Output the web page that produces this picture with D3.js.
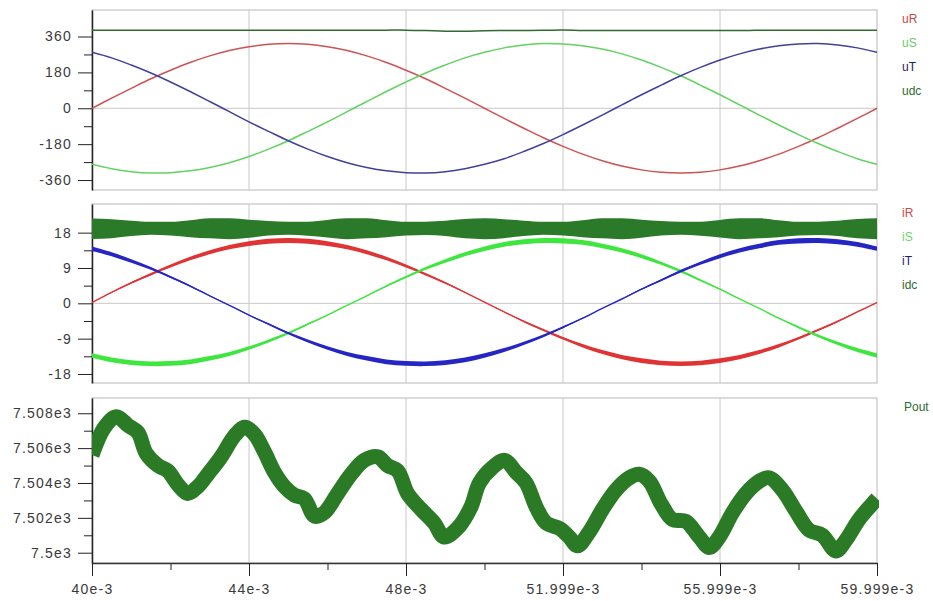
<!DOCTYPE html>
<html>
<head>
<meta charset="utf-8">
<script src="https://cdn.jsdelivr.net/npm/d3@7"></script>
<style>
  body { margin: 0; background: #fff; }
  svg { display: block; }
  .tick text { font-family: "Liberation Sans", Arial, sans-serif; font-size: 14px; fill: #3a3a3a; letter-spacing: 1.2px; }
  .legend { font-family: "Liberation Sans", Arial, sans-serif; font-size: 12px; }
</style>
</head>
<body>
<div id="chart"></div>
<script>
// time axis (ms), 0.5 ms steps
const t = [40,40.5,41,41.5,42,42.5,43,43.5,44,44.5,45,45.5,46,46.5,47,47.5,48,48.5,49,49.5,50,
  50.5,51,51.5,52,52.5,53,53.5,54,54.5,55,55.5,56,56.5,57,57.5,58,58.5,59,59.5,60];

// phase voltages (V) and dc link
const uR = [0,51,100,148,191,230,263,290,309,321,325,321,309,290,263,230,191,148,100,51,0,
  -51,-100,-148,-191,-230,-263,-290,-309,-321,-325,-321,-309,-290,-263,-230,-191,-148,-100,-51,0];
const uS = [-281,-303,-318,-325,-323,-314,-297,-273,-242,-205,-163,-116,-68,-17,34,84,132,177,217,253,281,
  303,318,325,323,314,297,273,242,205,163,116,68,17,-34,-84,-132,-177,-217,-253,-281];
const uT = [281,253,217,177,132,84,34,-17,-68,-116,-163,-205,-242,-273,-297,-314,-323,-325,-318,-303,-281,
  -253,-217,-177,-132,-84,-34,17,68,116,163,205,242,273,297,314,323,325,318,303,281];
const udc = [392,392,392,392,392,392,392,392,392,392,392,392,392,392,392,392,392,390,387,387,389,
  390,390,391,393,390,390,390,390,390,390,390,390,390,391,391,391,391,391,391,391];

// phase currents (A) with their ripple band (peak to peak)
const iR = [0.2,2.8,5.2,7.4,9.5,11.4,13.0,14.3,15.2,15.8,16.0,15.8,15.2,14.3,13.0,11.4,9.5,7.4,5.2,2.8,0.3,
  -2.2,-4.6,-6.8,-8.9,-10.8,-12.4,-13.7,-14.6,-15.2,-15.4,-15.2,-14.6,-13.7,-12.4,-10.8,-8.9,-6.8,-4.6,-2.2,0.2];
const iS = [-13.3,-14.4,-15.1,-15.4,-15.3,-14.9,-14.0,-12.9,-11.4,-9.6,-7.6,-5.3,-3.0,-0.5,1.9,4.4,6.7,8.9,10.8,12.5,13.9,
  15.0,15.7,16.0,15.9,15.5,14.6,13.5,12.0,10.2,8.2,5.9,3.6,1.1,-1.3,-3.8,-6.1,-8.3,-10.2,-11.9,-13.3];
const iT = [13.9,12.5,10.8,8.9,6.7,4.4,1.9,-0.5,-3.0,-5.3,-7.6,-9.6,-11.4,-12.9,-14.0,-14.9,-15.3,-15.4,-15.1,-14.4,-13.3,
  -11.9,-10.2,-8.3,-6.1,-3.8,-1.3,1.1,3.6,5.9,8.2,10.2,12.0,13.5,14.6,15.5,15.9,16.0,15.7,15.0,13.9];
const iRrip = [0.1,0.2,0.4,0.6,0.8,0.9,1.0,1.1,1.2,1.3,1.3,1.3,1.2,1.1,1.0,0.9,0.8,0.6,0.4,0.2,0.1,
  0.2,0.4,0.5,0.7,0.9,1.0,1.1,1.2,1.2,1.2,1.2,1.2,1.1,1.0,0.9,0.7,0.5,0.4,0.2,0.1];
const iSrip = [1.1,1.2,1.2,1.2,1.2,1.2,1.1,1.0,0.9,0.8,0.6,0.4,0.2,0.1,0.2,0.4,0.5,0.7,0.9,1.0,1.1,
  1.2,1.3,1.3,1.3,1.2,1.2,1.1,1.0,0.8,0.7,0.5,0.3,0.1,0.1,0.3,0.5,0.7,0.8,1.0,1.1];
const iTrip = [1.1,1.0,0.9,0.7,0.5,0.4,0.2,0.1,0.2,0.4,0.6,0.8,0.9,1.0,1.1,1.2,1.2,1.2,1.2,1.2,1.1,
  1.0,0.8,0.7,0.5,0.3,0.1,0.1,0.3,0.5,0.7,0.8,1.0,1.1,1.2,1.2,1.3,1.3,1.3,1.2,1.1];
const idc = [19.0,19.0,19.1,19.1,19.0,19.0,19.1,19.0,19.0,19.1,19.1,19.0,19.0,19.0,19.1,19.0,19.0,19.1,19.1,19.0,19.0,
  19.0,19.1,19.1,19.0,19.0,19.1,19.0,19.0,19.1,19.1,19.0,19.0,19.0,19.1,19.0,19.0,19.1,19.1,19.0,19.0];
const idcRip = [5.2,4.8,3.9,3.3,3.5,4.3,5.1,5.3,4.6,3.7,3.3,3.6,4.5,5.3,5.1,4.3,3.5,3.4,3.9,4.9,5.3,
  4.8,3.9,3.3,3.5,4.3,5.1,5.3,4.6,3.7,3.3,3.6,4.5,5.3,5.1,4.3,3.5,3.4,3.9,4.9,5.3];

// output power (W), traced centre of the noisy band
const poutT = [40.00,40.32,40.62,40.92,41.17,41.38,41.68,41.93,42.19,42.44,42.70,42.95,43.29,43.63,43.89,44.14,
  44.39,44.65,44.90,45.16,45.41,45.67,45.92,46.26,46.60,46.94,47.28,47.53,47.79,48.04,48.38,48.72,48.97,
  49.31,49.65,49.87,50.21,50.51,50.81,51.06,51.32,51.57,51.91,52.16,52.37,52.67,53.01,53.35,53.69,53.94,
  54.20,54.50,54.79,55.13,55.47,55.73,55.98,56.32,56.66,57.00,57.25,57.59,57.93,58.27,58.61,58.95,59.20,
  59.54,59.88,60.00];
const pout = [7505.6,7507.2,7507.8,7507.3,7506.9,7505.7,7505.0,7504.7,7503.9,7503.4,7503.8,7504.5,7505.5,7506.7,7507.2,7506.8,
  7505.8,7504.6,7503.8,7503.3,7503.1,7502.1,7502.3,7503.4,7504.5,7505.3,7505.5,7505.0,7504.7,7503.4,7502.5,7501.7,7500.9,
  7501.4,7502.6,7504.0,7504.9,7505.3,7504.6,7504.0,7502.6,7501.7,7501.4,7500.9,7500.4,7501.2,7502.5,7503.6,7504.3,7504.5,
  7504.1,7502.8,7501.9,7501.8,7500.9,7500.3,7500.9,7502.3,7503.4,7504.1,7504.3,7503.6,7502.4,7501.3,7501.0,7500.1,7500.7,
  7501.9,7502.8,7503.1];

// ticks
const xTicks = [40, 44, 48, 52, 56, 60];
const xLabels = ["40e-3", "44e-3", "48e-3", "51.999e-3", "55.999e-3", "59.999e-3"];
const xMinor = [42, 46, 50, 54, 58];
const xGrid = [44, 48, 52, 56];
const uTicks = [360, 180, 0, -180, -360];
const uMinor = [270, 90, -90, -270];
const iTicks = [18, 9, 0, -9, -18];
const iMinor = [13.5, 4.5, -4.5, -13.5];
const pTicks = [7508, 7506, 7504, 7502, 7500];
const pLabels = ["7.508e3", "7.506e3", "7.504e3", "7.502e3", "7.5e3"];
const pMinor = [7507, 7505, 7503, 7501];

const W = 933, H = 601;
const left = 92, right = 877;

const svg = d3.select("#chart").append("svg")
  .attr("width", W).attr("height", H);

const x = d3.scaleLinear().domain([40, 60]).range([left, right]);

const panels = [
  { top: 10, bottom: 190, domain: [-410, 493], ticks: uTicks, labels: uTicks.map(String), minor: uMinor, zero: true },
  { top: 204, bottom: 383, domain: [-20.3, 25.3], ticks: iTicks, labels: iTicks.map(String), minor: iMinor, zero: true },
  { top: 398, bottom: 563, domain: [7499.41, 7508.875], ticks: pTicks, labels: pLabels, minor: pMinor, zero: false }
];

panels.forEach(p => {
  p.y = d3.scaleLinear().domain(p.domain).range([p.bottom, p.top]);
  const g = svg.append("g");

  // frame
  g.append("rect")
    .attr("x", left).attr("y", p.top)
    .attr("width", right - left).attr("height", p.bottom - p.top)
    .attr("fill", "none").attr("stroke", "#b8b8b8");

  // vertical grid
  g.selectAll(".vg").data(xGrid).enter().append("line")
    .attr("x1", d => x(d)).attr("x2", d => x(d))
    .attr("y1", p.top).attr("y2", p.bottom)
    .attr("stroke", "#c8c8c8");

  if (p.zero) {
    g.append("line")
      .attr("x1", left).attr("x2", right)
      .attr("y1", p.y(0)).attr("y2", p.y(0))
      .attr("stroke", "#c8c8c8");
  }

  // minor ticks first, then major axis on top
  g.append("g")
    .attr("transform", `translate(${left},0)`)
    .call(d3.axisLeft(p.y).tickValues(p.minor).tickSize(8).tickFormat(""))
    .call(a => a.select(".domain").remove())
    .selectAll("line").attr("stroke", "#222");

  const ax = g.append("g")
    .attr("transform", `translate(${left},0)`)
    .call(d3.axisLeft(p.y).tickValues(p.ticks).tickSize(14).tickSizeOuter(0)
      .tickPadding(6).tickFormat((d, i) => p.labels[i]));
  ax.select(".domain").attr("stroke", "#222").attr("stroke-width", 1.5);
  ax.selectAll(".tick line").attr("stroke", "#222");
});

const [pu, pi, pp] = panels;

// x axis under the last panel
svg.append("g")
  .attr("transform", `translate(0,${pp.bottom})`)
  .call(d3.axisBottom(x).tickValues(xMinor).tickSize(7).tickFormat(""))
  .call(a => a.select(".domain").remove())
  .selectAll("line").attr("stroke", "#222");
const xa = svg.append("g")
  .attr("transform", `translate(0,${pp.bottom})`)
  .call(d3.axisBottom(x).tickValues(xTicks).tickSize(13).tickSizeOuter(0)
    .tickPadding(8).tickFormat((d, i) => xLabels[i]));
xa.select(".domain").attr("stroke", "#333").attr("stroke-width", 1.5);
xa.selectAll(".tick line").attr("stroke", "#222");

// ---------- voltages ----------
const clip = (p, id) => {
  svg.append("clipPath").attr("id", id).append("rect")
    .attr("x", left).attr("y", p.top).attr("width", right - left + 2).attr("height", p.bottom - p.top);
  return svg.append("g").attr("clip-path", `url(#${id})`);
};

const gu = clip(pu, "cu");
const uLine = vals => d3.line()
  .x((d, i) => x(t[i])).y(d => pu.y(d))
  .curve(d3.curveCatmullRom)(vals);

[[udc, "#2f6a2f"], [uR, "#cf5252"], [uS, "#62d262"], [uT, "#40409c"]].forEach(([v, c]) => {
  gu.append("path").attr("d", uLine(v))
    .attr("fill", "none").attr("stroke", c).attr("stroke-width", 1.5);
});

// ---------- currents ----------
const gi = clip(pi, "ci");
const band = (vals, rip, curve) => d3.area()
  .x((d, i) => x(t[i]))
  .y0((d, i) => pi.y(d - rip[i] / 2))
  .y1((d, i) => pi.y(d + rip[i] / 2))
  .curve(curve)(vals);
const iLine = vals => d3.line()
  .x((d, i) => x(t[i])).y(d => pi.y(d))
  .curve(d3.curveCatmullRom)(vals);

gi.append("path").attr("d", band(idc, idcRip, d3.curveMonotoneX))
  .attr("fill", "#2a7a2a");

[[iR, iRrip, "#e03434"], [iS, iSrip, "#40e640"], [iT, iTrip, "#2626c4"]].forEach(([v, r, c]) => {
  gi.append("path").attr("d", band(v, r, d3.curveCatmullRom)).attr("fill", c);
  gi.append("path").attr("d", iLine(v))
    .attr("fill", "none").attr("stroke", c).attr("stroke-width", 1.4);
});

// ---------- output power ----------
const gp = clip(pp, "cp");
gp.append("path")
  .attr("d", d3.line().x((d, i) => x(poutT[i])).y(d => pp.y(d)).curve(d3.curveCatmullRom)(pout))
  .attr("fill", "none").attr("stroke", "#2b7a26").attr("stroke-width", 15)
  .attr("stroke-linejoin", "round");

// ---------- legends ----------
const legends = [
  { p: pu, items: [["uR", "#c84848"], ["uS", "#6acc6a"], ["uT", "#1e1e5e"], ["udc", "#2f6a2f"]] },
  { p: pi, items: [["iR", "#d04848"], ["iS", "#6ad66a"], ["iT", "#1e1e70"], ["idc", "#2f6a2f"]] },
  { p: pp, items: [["Pout", "#2f6a2f"]] }
];
legends.forEach(l => {
  svg.selectAll(null).data(l.items).enter().append("text")
    .attr("class", "legend")
    .attr("x", l.items.length > 1 ? 902 : 904)
    .attr("y", (d, i) => l.p.top + 13 + i * 24)
    .attr("fill", d => d[1])
    .text(d => d[0]);
});
</script>
</body>
</html>
